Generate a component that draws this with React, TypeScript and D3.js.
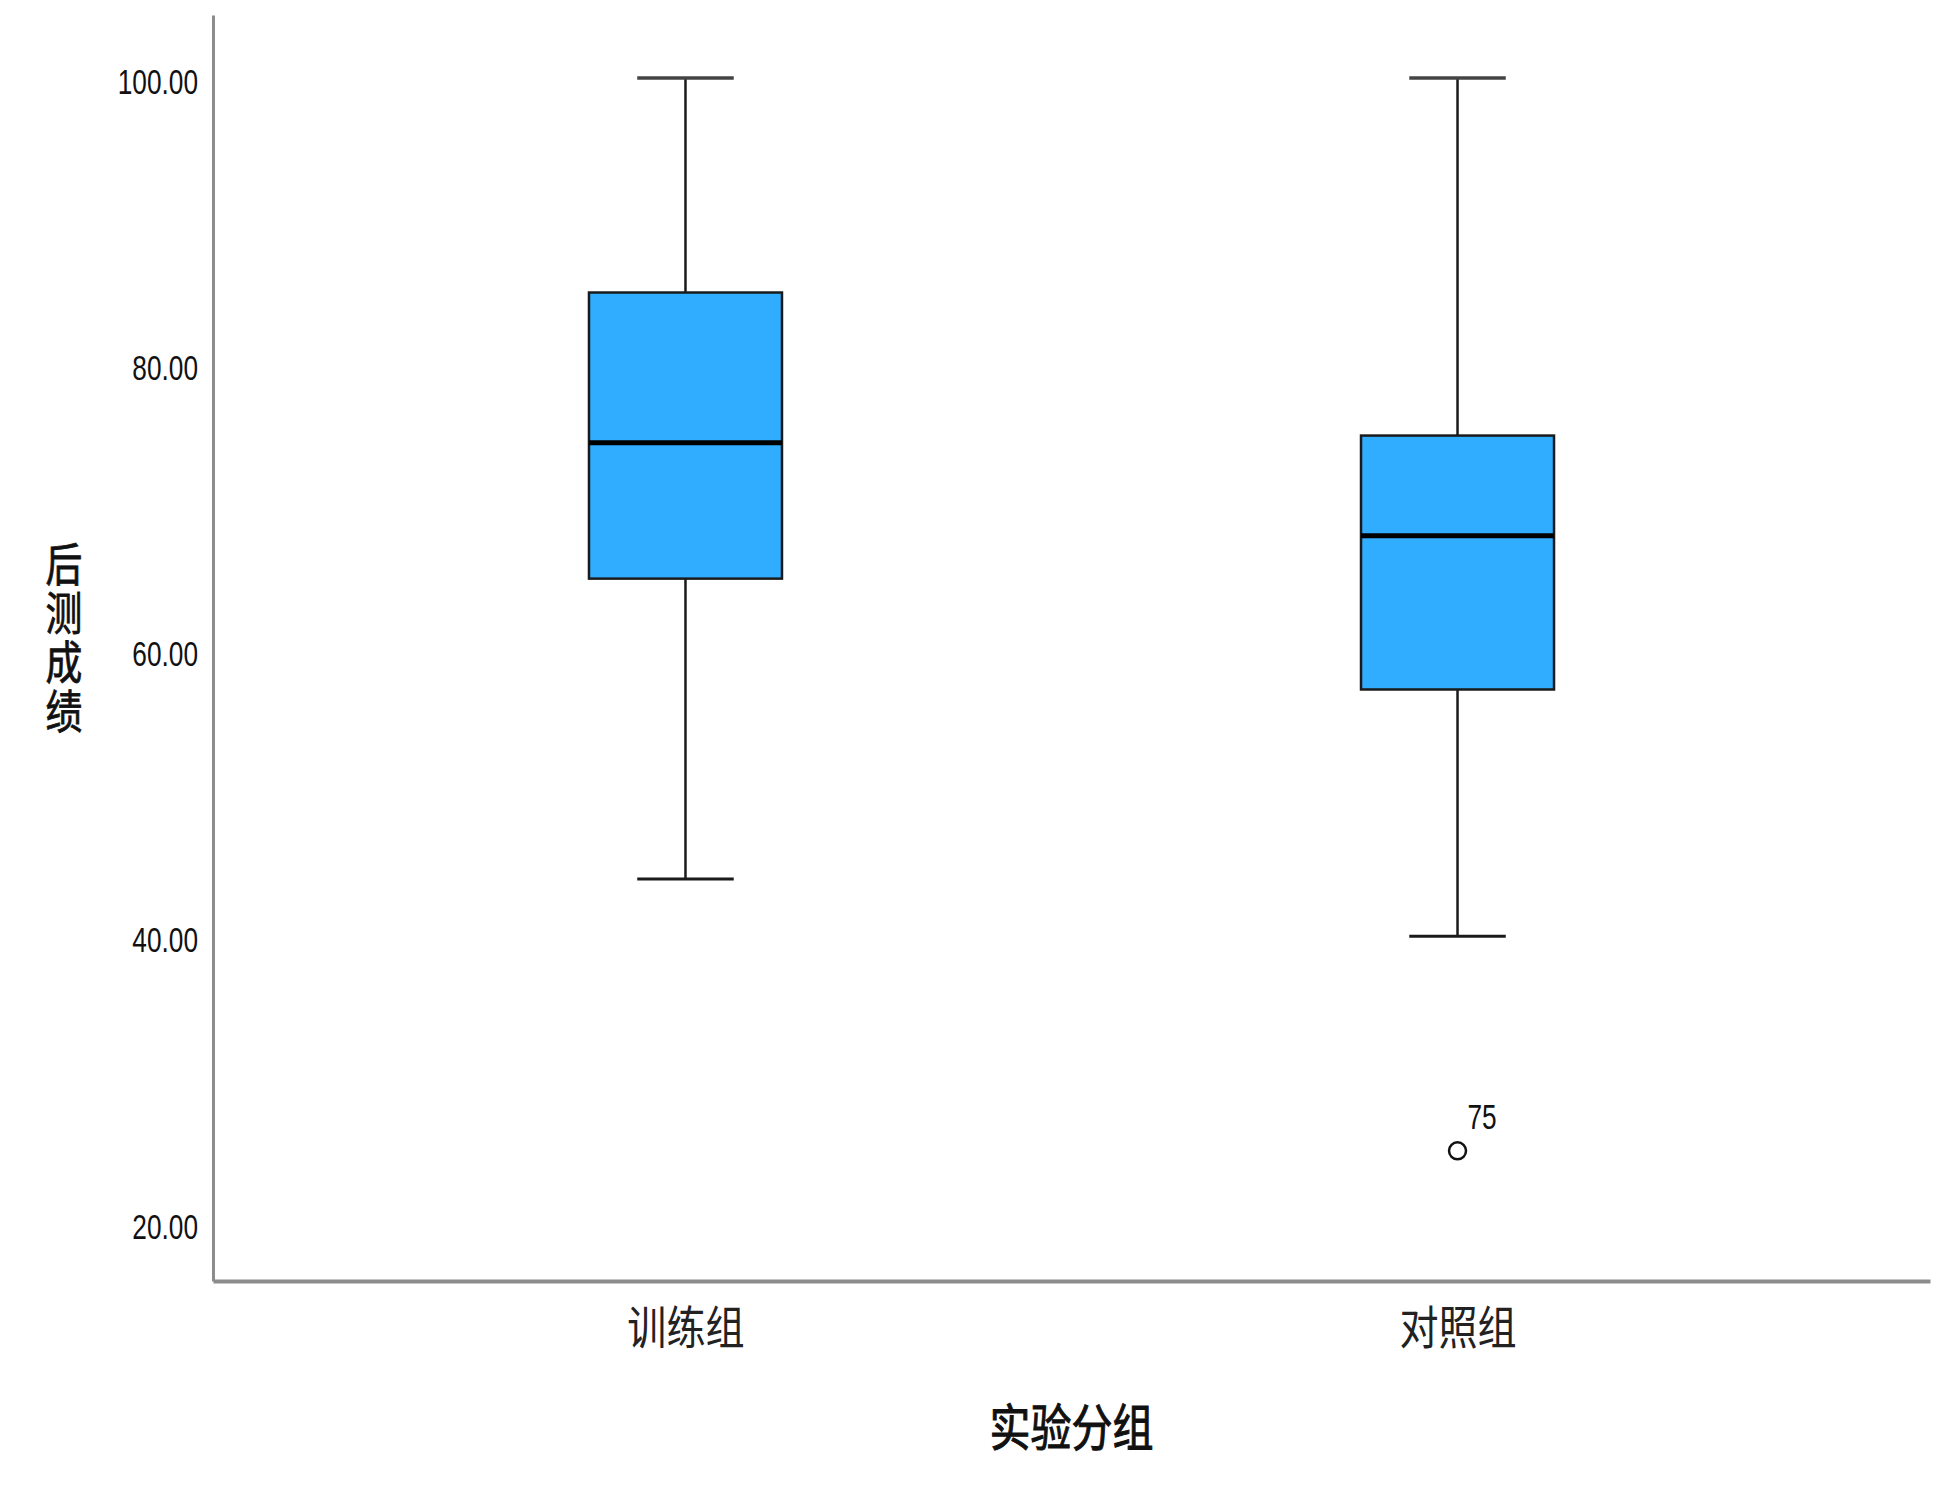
import React, { useRef, useEffect } from "react";
import * as d3 from "d3";

// box plot data
const groups = ["训练组", "对照组"];
const whiskerLow = [44, 40];
const q1 = [65, 57.25];
const medians = [74.5, 68];
const q3 = [85, 75];
const whiskerHigh = [100, 100];

const outlierGroups = ["对照组"];
const outlierValues = [25];
const outlierLabels = ["75"];

const yTicks = [20, 40, 60, 80, 100];

const yTitle = "后测成绩";
const xTitle = "实验分组";

export default function App() {
    const containerRef = useRef<HTMLDivElement>(null);

    useEffect(() => {
        if (!containerRef.current) return;
        const container = containerRef.current;
        d3.select(container).selectAll("svg").remove();

        const width = 1950;
        const height = 1500;
        const plot = { left: 213, right: 1930, top: 15, bottom: 1281 };

        // pinned to the page corner, body margin ignored
        const svg = d3.select(container)
            .append("svg")
            .attr("width", width)
            .attr("height", height)
            .style("position", "absolute")
            .style("left", "0px")
            .style("top", "0px")
            .style("background", "#ffffff");

        const xScale = d3.scalePoint<string>()
            .domain(groups)
            .range([plot.left, plot.right])
            .padding(0.612);

        const yScale = d3.scaleLinear()
            .domain([15.9, 104.4])
            .range([plot.bottom, plot.top]);

        const step = xScale.step();
        const boxW = step * 0.25;
        const capW = step * 0.125;

        const numFont = "'Liberation Sans', Arial, sans-serif";
        const cjkFont = "'Noto Sans CJK SC', 'Noto Sans', sans-serif";

        // Y axis
        const yAxis = svg.append("g")
            .attr("transform", `translate(${plot.left},0)`)
            .call(d3.axisLeft(yScale).tickValues(yTicks).tickSize(0).tickSizeOuter(0).tickPadding(20)
                .tickFormat(d => (d as number).toFixed(2)));
        yAxis.select(".domain").attr("stroke", "#8c8c8c").attr("stroke-width", 3);
        yAxis.selectAll("text")
            .attr("font-family", numFont)
            .attr("font-size", 35)
            .attr("fill", "#111")
            .attr("dy", "0.45em")
            .attr("transform", "scale(0.75,1)");

        // X axis
        const xAxis = svg.append("g")
            .attr("transform", `translate(0,${plot.bottom})`)
            .call(d3.axisBottom(xScale).tickSize(0).tickSizeOuter(0).tickPadding(30));
        xAxis.select(".domain").attr("stroke", "#8c8c8c").attr("stroke-width", 4);
        xAxis.selectAll("text")
            .attr("font-family", cjkFont)
            .attr("font-size", 46)
            .attr("fill", "#222")
            .attr("transform", "scale(0.85,1)");

        // Boxes
        const boxes = svg.append("g").attr("class", "boxes")
            .selectAll("g")
            .data(groups)
            .join("g");

        // whiskers
        boxes.append("line")
            .attr("x1", d => xScale(d)!).attr("x2", d => xScale(d)!)
            .attr("y1", (d, i) => yScale(q3[i])).attr("y2", (d, i) => yScale(whiskerHigh[i]))
            .attr("stroke", "#1a1a1a").attr("stroke-width", 2.5);
        boxes.append("line")
            .attr("x1", d => xScale(d)!).attr("x2", d => xScale(d)!)
            .attr("y1", (d, i) => yScale(q1[i])).attr("y2", (d, i) => yScale(whiskerLow[i]))
            .attr("stroke", "#1a1a1a").attr("stroke-width", 2.5);

        // caps
        boxes.append("line")
            .attr("x1", d => xScale(d)! - capW / 2).attr("x2", d => xScale(d)! + capW / 2)
            .attr("y1", (d, i) => yScale(whiskerHigh[i])).attr("y2", (d, i) => yScale(whiskerHigh[i]))
            .attr("stroke", "#444").attr("stroke-width", 3.5);
        boxes.append("line")
            .attr("x1", d => xScale(d)! - capW / 2).attr("x2", d => xScale(d)! + capW / 2)
            .attr("y1", (d, i) => yScale(whiskerLow[i])).attr("y2", (d, i) => yScale(whiskerLow[i]))
            .attr("stroke", "#1a1a1a").attr("stroke-width", 3);

        // box body
        boxes.append("rect")
            .attr("x", d => xScale(d)! - boxW / 2)
            .attr("width", boxW)
            .attr("y", (d, i) => yScale(q3[i]))
            .attr("height", (d, i) => yScale(q1[i]) - yScale(q3[i]))
            .attr("fill", "#31adff")
            .attr("stroke", "#1a1a1a")
            .attr("stroke-width", 2.5);

        // median
        boxes.append("line")
            .attr("x1", d => xScale(d)! - boxW / 2).attr("x2", d => xScale(d)! + boxW / 2)
            .attr("y1", (d, i) => yScale(medians[i])).attr("y2", (d, i) => yScale(medians[i]))
            .attr("stroke", "#000").attr("stroke-width", 5);

        // Outliers
        const outliers = svg.append("g").attr("class", "outliers")
            .selectAll("g")
            .data(outlierValues)
            .join("g")
            .attr("transform", (v, i) => `translate(${xScale(outlierGroups[i])},${yScale(v)})`);

        outliers.append("circle")
            .attr("r", 8.5)
            .attr("fill", "none")
            .attr("stroke", "#111")
            .attr("stroke-width", 2.5);

        outliers.append("text")
            .attr("transform", "translate(10,-22) scale(0.75,1)")
            .attr("font-family", numFont)
            .attr("font-size", 35)
            .attr("fill", "#111")
            .text((v, i) => outlierLabels[i]);

        // Y title, upright vertical text
        svg.append("text")
            .attr("transform", "translate(64,541) scale(0.8,1)")
            .style("writing-mode", "vertical-rl")
            .style("text-orientation", "upright")
            .attr("letter-spacing", 3)
            .attr("font-family", cjkFont)
            .attr("font-size", 46)
            .attr("fill", "#111")
            .attr("stroke", "#111")
            .attr("stroke-width", 0.8)
            .text(yTitle);

        // X title
        svg.append("text")
            .attr("transform", `translate(${(plot.left + plot.right) / 2},1446) scale(0.82,1)`)
            .attr("text-anchor", "middle")
            .attr("font-family", cjkFont)
            .attr("font-size", 50)
            .attr("fill", "#111")
            .attr("stroke", "#111")
            .attr("stroke-width", 1)
            .text(xTitle);

        return () => { svg.remove(); };
    }, []);

    return <div ref={containerRef} />;
}
